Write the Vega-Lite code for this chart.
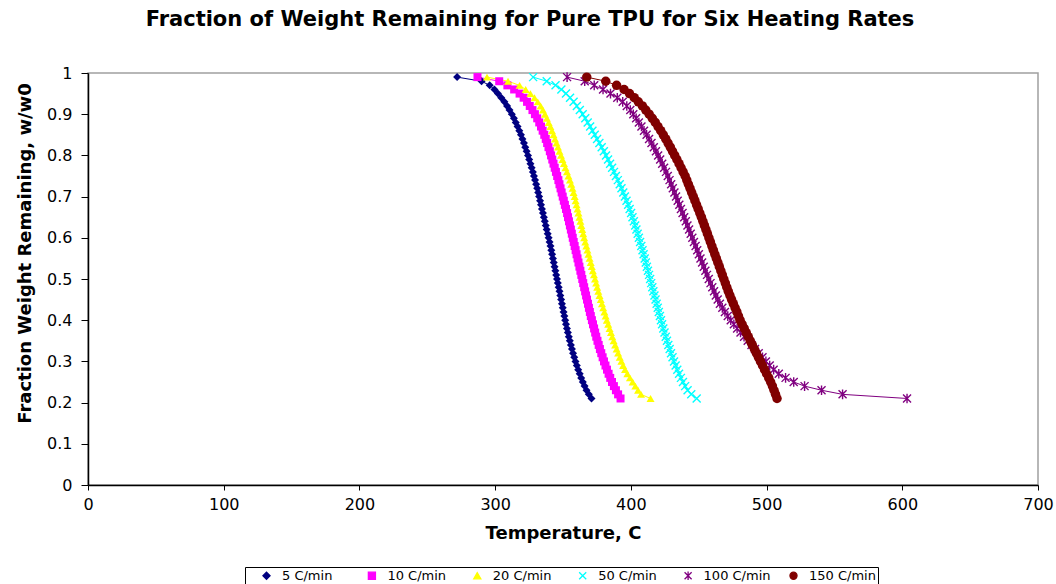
{
"$schema": "https://vega.github.io/schema/vega-lite/v6.json",
"width": 950, "height": 412,
"autosize": {"type": "none"},
"padding": {"left": 88, "top": 73, "right": 18, "bottom": 99},
"background": "white",
"title": {"text": "Fraction of Weight Remaining for Pure TPU for Six Heating Rates", "font": "DejaVu Sans", "fontSize": 21, "fontWeight": "bold", "color": "black", "anchor": "middle", "offset": 35, "dx": -33},
"config": {
 "view": {"stroke": "#a0a0a0", "strokeWidth": 1.5},
 "axis": {"grid": false, "domainColor": "black", "domainWidth": 1.5, "tickColor": "black", "labelFont": "DejaVu Sans", "labelFontSize": 16, "labelColor": "black", "titleFont": "DejaVu Sans", "titleFontWeight": "bold", "titleColor": "black"}
},
"data": {"values": [
{"s":"5 C/min","w":0.99,"t":272},{"s":"5 C/min","w":0.98,"t":290},{"s":"5 C/min","w":0.97,"t":296},{"s":"5 C/min","w":0.96,"t":299.5},{"s":"5 C/min","w":0.95,"t":302},{"s":"5 C/min","w":0.94,"t":304.5},{"s":"5 C/min","w":0.93,"t":306.8},{"s":"5 C/min","w":0.92,"t":308.8},{"s":"5 C/min","w":0.91,"t":310.6},{"s":"5 C/min","w":0.90,"t":312.3},
{"s":"5 C/min","w":0.89,"t":313.8},{"s":"5 C/min","w":0.88,"t":315.2},{"s":"5 C/min","w":0.87,"t":316.5},{"s":"5 C/min","w":0.86,"t":317.8},{"s":"5 C/min","w":0.85,"t":319},{"s":"5 C/min","w":0.84,"t":320.1},{"s":"5 C/min","w":0.83,"t":321.2},{"s":"5 C/min","w":0.82,"t":322.2},{"s":"5 C/min","w":0.81,"t":323.2},{"s":"5 C/min","w":0.80,"t":324.2},
{"s":"5 C/min","w":0.79,"t":325.1},{"s":"5 C/min","w":0.78,"t":326},{"s":"5 C/min","w":0.77,"t":326.9},{"s":"5 C/min","w":0.76,"t":327.8},{"s":"5 C/min","w":0.75,"t":328.6},{"s":"5 C/min","w":0.74,"t":329.4},{"s":"5 C/min","w":0.73,"t":330.2},{"s":"5 C/min","w":0.72,"t":331},{"s":"5 C/min","w":0.71,"t":331.7},{"s":"5 C/min","w":0.70,"t":332.4},
{"s":"5 C/min","w":0.69,"t":333.1},{"s":"5 C/min","w":0.68,"t":333.8},{"s":"5 C/min","w":0.67,"t":334.5},{"s":"5 C/min","w":0.66,"t":335.2},{"s":"5 C/min","w":0.65,"t":335.9},{"s":"5 C/min","w":0.64,"t":336.6},{"s":"5 C/min","w":0.63,"t":337.3},{"s":"5 C/min","w":0.62,"t":338},{"s":"5 C/min","w":0.61,"t":338.7},{"s":"5 C/min","w":0.60,"t":339.4},
{"s":"5 C/min","w":0.59,"t":340.1},{"s":"5 C/min","w":0.58,"t":340.8},{"s":"5 C/min","w":0.57,"t":341.4},{"s":"5 C/min","w":0.56,"t":342},{"s":"5 C/min","w":0.55,"t":342.6},{"s":"5 C/min","w":0.54,"t":343.2},{"s":"5 C/min","w":0.53,"t":343.8},{"s":"5 C/min","w":0.52,"t":344.4},{"s":"5 C/min","w":0.51,"t":345},{"s":"5 C/min","w":0.50,"t":345.6},
{"s":"5 C/min","w":0.49,"t":346.2},{"s":"5 C/min","w":0.48,"t":346.8},{"s":"5 C/min","w":0.47,"t":347.4},{"s":"5 C/min","w":0.46,"t":348},{"s":"5 C/min","w":0.45,"t":348.6},{"s":"5 C/min","w":0.44,"t":349.2},{"s":"5 C/min","w":0.43,"t":349.8},{"s":"5 C/min","w":0.42,"t":350.4},{"s":"5 C/min","w":0.41,"t":351},{"s":"5 C/min","w":0.40,"t":351.6},
{"s":"5 C/min","w":0.39,"t":352.2},{"s":"5 C/min","w":0.38,"t":352.9},{"s":"5 C/min","w":0.37,"t":353.6},{"s":"5 C/min","w":0.36,"t":354.3},{"s":"5 C/min","w":0.35,"t":355},{"s":"5 C/min","w":0.34,"t":355.8},{"s":"5 C/min","w":0.33,"t":356.6},{"s":"5 C/min","w":0.32,"t":357.4},{"s":"5 C/min","w":0.31,"t":358.3},{"s":"5 C/min","w":0.30,"t":359.2},
{"s":"5 C/min","w":0.29,"t":360.2},{"s":"5 C/min","w":0.28,"t":361.2},{"s":"5 C/min","w":0.27,"t":362.3},{"s":"5 C/min","w":0.26,"t":363.4},{"s":"5 C/min","w":0.25,"t":364.6},{"s":"5 C/min","w":0.24,"t":365.9},{"s":"5 C/min","w":0.23,"t":367.3},{"s":"5 C/min","w":0.22,"t":369},{"s":"5 C/min","w":0.21,"t":371},

{"s":"10 C/min","w":0.99,"t":287},{"s":"10 C/min","w":0.98,"t":303},{"s":"10 C/min","w":0.97,"t":309},{"s":"10 C/min","w":0.96,"t":314},{"s":"10 C/min","w":0.95,"t":318},{"s":"10 C/min","w":0.94,"t":321},{"s":"10 C/min","w":0.93,"t":323.5},{"s":"10 C/min","w":0.92,"t":325.5},{"s":"10 C/min","w":0.91,"t":327.5},{"s":"10 C/min","w":0.90,"t":329.3},
{"s":"10 C/min","w":0.89,"t":331},{"s":"10 C/min","w":0.88,"t":332.5},{"s":"10 C/min","w":0.87,"t":333.8},{"s":"10 C/min","w":0.86,"t":335},{"s":"10 C/min","w":0.85,"t":336.2},{"s":"10 C/min","w":0.84,"t":337.3},{"s":"10 C/min","w":0.83,"t":338.3},{"s":"10 C/min","w":0.82,"t":339.3},{"s":"10 C/min","w":0.81,"t":340.3},{"s":"10 C/min","w":0.80,"t":341.2},
{"s":"10 C/min","w":0.79,"t":342.1},{"s":"10 C/min","w":0.78,"t":343},{"s":"10 C/min","w":0.77,"t":343.9},{"s":"10 C/min","w":0.76,"t":344.8},{"s":"10 C/min","w":0.75,"t":345.7},{"s":"10 C/min","w":0.74,"t":346.6},{"s":"10 C/min","w":0.73,"t":347.4},{"s":"10 C/min","w":0.72,"t":348.2},{"s":"10 C/min","w":0.71,"t":349},{"s":"10 C/min","w":0.70,"t":349.8},
{"s":"10 C/min","w":0.69,"t":350.6},{"s":"10 C/min","w":0.68,"t":351.4},{"s":"10 C/min","w":0.67,"t":352.2},{"s":"10 C/min","w":0.66,"t":353},{"s":"10 C/min","w":0.65,"t":353.7},{"s":"10 C/min","w":0.64,"t":354.4},{"s":"10 C/min","w":0.63,"t":355.1},{"s":"10 C/min","w":0.62,"t":355.8},{"s":"10 C/min","w":0.61,"t":356.5},{"s":"10 C/min","w":0.60,"t":357.2},
{"s":"10 C/min","w":0.59,"t":357.9},{"s":"10 C/min","w":0.58,"t":358.6},{"s":"10 C/min","w":0.57,"t":359.3},{"s":"10 C/min","w":0.56,"t":360},{"s":"10 C/min","w":0.55,"t":360.7},{"s":"10 C/min","w":0.54,"t":361.4},{"s":"10 C/min","w":0.53,"t":362.1},{"s":"10 C/min","w":0.52,"t":362.8},{"s":"10 C/min","w":0.51,"t":363.5},{"s":"10 C/min","w":0.50,"t":364.2},
{"s":"10 C/min","w":0.49,"t":364.9},{"s":"10 C/min","w":0.48,"t":365.6},{"s":"10 C/min","w":0.47,"t":366.3},{"s":"10 C/min","w":0.46,"t":367},{"s":"10 C/min","w":0.45,"t":367.7},{"s":"10 C/min","w":0.44,"t":368.4},{"s":"10 C/min","w":0.43,"t":369.1},{"s":"10 C/min","w":0.42,"t":369.8},{"s":"10 C/min","w":0.41,"t":370.5},{"s":"10 C/min","w":0.40,"t":371.3},
{"s":"10 C/min","w":0.39,"t":372.1},{"s":"10 C/min","w":0.38,"t":372.9},{"s":"10 C/min","w":0.37,"t":373.7},{"s":"10 C/min","w":0.36,"t":374.5},{"s":"10 C/min","w":0.35,"t":375.4},{"s":"10 C/min","w":0.34,"t":376.3},{"s":"10 C/min","w":0.33,"t":377.2},{"s":"10 C/min","w":0.32,"t":378.2},{"s":"10 C/min","w":0.31,"t":379.2},{"s":"10 C/min","w":0.30,"t":380.2},
{"s":"10 C/min","w":0.29,"t":381.3},{"s":"10 C/min","w":0.28,"t":382.4},{"s":"10 C/min","w":0.27,"t":383.6},{"s":"10 C/min","w":0.26,"t":384.8},{"s":"10 C/min","w":0.25,"t":386.1},{"s":"10 C/min","w":0.24,"t":387.5},{"s":"10 C/min","w":0.23,"t":389},{"s":"10 C/min","w":0.22,"t":390.6},{"s":"10 C/min","w":0.21,"t":392.4},

{"s":"20 C/min","w":0.99,"t":294},{"s":"20 C/min","w":0.98,"t":309.5},{"s":"20 C/min","w":0.97,"t":318},{"s":"20 C/min","w":0.96,"t":322.5},{"s":"20 C/min","w":0.95,"t":326},{"s":"20 C/min","w":0.94,"t":329},{"s":"20 C/min","w":0.93,"t":331.4},{"s":"20 C/min","w":0.92,"t":333.5},{"s":"20 C/min","w":0.91,"t":335.2},{"s":"20 C/min","w":0.90,"t":336.7},
{"s":"20 C/min","w":0.89,"t":338.1},{"s":"20 C/min","w":0.88,"t":339.4},{"s":"20 C/min","w":0.87,"t":340.7},{"s":"20 C/min","w":0.86,"t":341.9},{"s":"20 C/min","w":0.85,"t":343},{"s":"20 C/min","w":0.84,"t":344.1},{"s":"20 C/min","w":0.83,"t":345.2},{"s":"20 C/min","w":0.82,"t":346.3},{"s":"20 C/min","w":0.81,"t":347.4},{"s":"20 C/min","w":0.80,"t":348.5},
{"s":"20 C/min","w":0.79,"t":349.6},{"s":"20 C/min","w":0.78,"t":350.7},{"s":"20 C/min","w":0.77,"t":351.8},{"s":"20 C/min","w":0.76,"t":352.9},{"s":"20 C/min","w":0.75,"t":354},{"s":"20 C/min","w":0.74,"t":355.1},{"s":"20 C/min","w":0.73,"t":356.1},{"s":"20 C/min","w":0.72,"t":357},{"s":"20 C/min","w":0.71,"t":357.8},{"s":"20 C/min","w":0.70,"t":358.6},
{"s":"20 C/min","w":0.69,"t":359.3},{"s":"20 C/min","w":0.68,"t":360},{"s":"20 C/min","w":0.67,"t":360.7},{"s":"20 C/min","w":0.66,"t":361.4},{"s":"20 C/min","w":0.65,"t":362.1},{"s":"20 C/min","w":0.64,"t":362.8},{"s":"20 C/min","w":0.63,"t":363.5},{"s":"20 C/min","w":0.62,"t":364.2},{"s":"20 C/min","w":0.61,"t":364.9},{"s":"20 C/min","w":0.60,"t":365.6},
{"s":"20 C/min","w":0.59,"t":366.4},{"s":"20 C/min","w":0.58,"t":367.2},{"s":"20 C/min","w":0.57,"t":368},{"s":"20 C/min","w":0.56,"t":368.8},{"s":"20 C/min","w":0.55,"t":369.6},{"s":"20 C/min","w":0.54,"t":370.4},{"s":"20 C/min","w":0.53,"t":371.2},{"s":"20 C/min","w":0.52,"t":372},{"s":"20 C/min","w":0.51,"t":372.8},{"s":"20 C/min","w":0.50,"t":373.6},
{"s":"20 C/min","w":0.49,"t":374.4},{"s":"20 C/min","w":0.48,"t":375.2},{"s":"20 C/min","w":0.47,"t":376},{"s":"20 C/min","w":0.46,"t":376.9},{"s":"20 C/min","w":0.45,"t":377.8},{"s":"20 C/min","w":0.44,"t":378.7},{"s":"20 C/min","w":0.43,"t":379.6},{"s":"20 C/min","w":0.42,"t":380.5},{"s":"20 C/min","w":0.41,"t":381.4},{"s":"20 C/min","w":0.40,"t":382.3},
{"s":"20 C/min","w":0.39,"t":383.3},{"s":"20 C/min","w":0.38,"t":384.3},{"s":"20 C/min","w":0.37,"t":385.3},{"s":"20 C/min","w":0.36,"t":386.3},{"s":"20 C/min","w":0.35,"t":387.3},{"s":"20 C/min","w":0.34,"t":388.4},{"s":"20 C/min","w":0.33,"t":389.5},{"s":"20 C/min","w":0.32,"t":390.6},{"s":"20 C/min","w":0.31,"t":391.8},{"s":"20 C/min","w":0.30,"t":393},
{"s":"20 C/min","w":0.29,"t":394.3},{"s":"20 C/min","w":0.28,"t":395.7},{"s":"20 C/min","w":0.27,"t":397.4},{"s":"20 C/min","w":0.26,"t":399.3},{"s":"20 C/min","w":0.25,"t":401.3},{"s":"20 C/min","w":0.24,"t":403.3},{"s":"20 C/min","w":0.23,"t":405.3},{"s":"20 C/min","w":0.22,"t":407.5},{"s":"20 C/min","w":0.21,"t":414.5},

{"s":"50 C/min","w":0.99,"t":328},{"s":"50 C/min","w":0.98,"t":338},{"s":"50 C/min","w":0.97,"t":344.5},{"s":"50 C/min","w":0.96,"t":348.8},{"s":"50 C/min","w":0.95,"t":352.2},{"s":"50 C/min","w":0.94,"t":355.2},{"s":"50 C/min","w":0.93,"t":357.8},{"s":"50 C/min","w":0.92,"t":360.2},{"s":"50 C/min","w":0.91,"t":362.4},{"s":"50 C/min","w":0.90,"t":364.5},
{"s":"50 C/min","w":0.89,"t":366.4},{"s":"50 C/min","w":0.88,"t":368.2},{"s":"50 C/min","w":0.87,"t":370},{"s":"50 C/min","w":0.86,"t":371.7},{"s":"50 C/min","w":0.85,"t":373.4},{"s":"50 C/min","w":0.84,"t":375.1},{"s":"50 C/min","w":0.83,"t":376.8},{"s":"50 C/min","w":0.82,"t":378.5},{"s":"50 C/min","w":0.81,"t":380.1},{"s":"50 C/min","w":0.80,"t":381.7},
{"s":"50 C/min","w":0.79,"t":383.2},{"s":"50 C/min","w":0.78,"t":384.7},{"s":"50 C/min","w":0.77,"t":386.2},{"s":"50 C/min","w":0.76,"t":387.6},{"s":"50 C/min","w":0.75,"t":389},{"s":"50 C/min","w":0.74,"t":390.4},{"s":"50 C/min","w":0.73,"t":391.8},{"s":"50 C/min","w":0.72,"t":393.1},{"s":"50 C/min","w":0.71,"t":394.4},{"s":"50 C/min","w":0.70,"t":395.6},
{"s":"50 C/min","w":0.69,"t":396.8},{"s":"50 C/min","w":0.68,"t":398},{"s":"50 C/min","w":0.67,"t":399.1},{"s":"50 C/min","w":0.66,"t":400.2},{"s":"50 C/min","w":0.65,"t":401.2},{"s":"50 C/min","w":0.64,"t":402.2},{"s":"50 C/min","w":0.63,"t":403.2},{"s":"50 C/min","w":0.62,"t":404.1},{"s":"50 C/min","w":0.61,"t":405},{"s":"50 C/min","w":0.60,"t":405.9},
{"s":"50 C/min","w":0.59,"t":406.8},{"s":"50 C/min","w":0.58,"t":407.7},{"s":"50 C/min","w":0.57,"t":408.6},{"s":"50 C/min","w":0.56,"t":409.4},{"s":"50 C/min","w":0.55,"t":410.2},{"s":"50 C/min","w":0.54,"t":411},{"s":"50 C/min","w":0.53,"t":411.8},{"s":"50 C/min","w":0.52,"t":412.6},{"s":"50 C/min","w":0.51,"t":413.4},{"s":"50 C/min","w":0.50,"t":414.2},
{"s":"50 C/min","w":0.49,"t":415},{"s":"50 C/min","w":0.48,"t":415.8},{"s":"50 C/min","w":0.47,"t":416.6},{"s":"50 C/min","w":0.46,"t":417.4},{"s":"50 C/min","w":0.45,"t":418.2},{"s":"50 C/min","w":0.44,"t":419},{"s":"50 C/min","w":0.43,"t":419.8},{"s":"50 C/min","w":0.42,"t":420.6},{"s":"50 C/min","w":0.41,"t":421.4},{"s":"50 C/min","w":0.40,"t":422.2},
{"s":"50 C/min","w":0.39,"t":423},{"s":"50 C/min","w":0.38,"t":423.9},{"s":"50 C/min","w":0.37,"t":424.8},{"s":"50 C/min","w":0.36,"t":425.7},{"s":"50 C/min","w":0.35,"t":426.6},{"s":"50 C/min","w":0.34,"t":427.6},{"s":"50 C/min","w":0.33,"t":428.6},{"s":"50 C/min","w":0.32,"t":429.6},{"s":"50 C/min","w":0.31,"t":430.7},{"s":"50 C/min","w":0.30,"t":431.8},
{"s":"50 C/min","w":0.29,"t":433},{"s":"50 C/min","w":0.28,"t":434.2},{"s":"50 C/min","w":0.27,"t":435.5},{"s":"50 C/min","w":0.26,"t":436.9},{"s":"50 C/min","w":0.25,"t":438.4},{"s":"50 C/min","w":0.24,"t":440},{"s":"50 C/min","w":0.23,"t":441.8},{"s":"50 C/min","w":0.22,"t":444.5},{"s":"50 C/min","w":0.21,"t":448.5},

{"s":"100 C/min","w":0.99,"t":353},{"s":"100 C/min","w":0.98,"t":366},{"s":"100 C/min","w":0.97,"t":373},{"s":"100 C/min","w":0.96,"t":379.5},{"s":"100 C/min","w":0.95,"t":385},{"s":"100 C/min","w":0.94,"t":390},{"s":"100 C/min","w":0.93,"t":394},{"s":"100 C/min","w":0.92,"t":397},{"s":"100 C/min","w":0.91,"t":399.6},{"s":"100 C/min","w":0.90,"t":401.8},
{"s":"100 C/min","w":0.89,"t":403.9},{"s":"100 C/min","w":0.88,"t":405.9},{"s":"100 C/min","w":0.87,"t":407.8},{"s":"100 C/min","w":0.86,"t":409.7},{"s":"100 C/min","w":0.85,"t":411.6},{"s":"100 C/min","w":0.84,"t":413.4},{"s":"100 C/min","w":0.83,"t":415.2},{"s":"100 C/min","w":0.82,"t":416.9},{"s":"100 C/min","w":0.81,"t":418.5},{"s":"100 C/min","w":0.80,"t":420.1},
{"s":"100 C/min","w":0.79,"t":421.6},{"s":"100 C/min","w":0.78,"t":423.1},{"s":"100 C/min","w":0.77,"t":424.5},{"s":"100 C/min","w":0.76,"t":425.9},{"s":"100 C/min","w":0.75,"t":427.2},{"s":"100 C/min","w":0.74,"t":428.5},{"s":"100 C/min","w":0.73,"t":429.7},{"s":"100 C/min","w":0.72,"t":430.9},{"s":"100 C/min","w":0.71,"t":432.1},{"s":"100 C/min","w":0.70,"t":433.3},
{"s":"100 C/min","w":0.69,"t":434.5},{"s":"100 C/min","w":0.68,"t":435.7},{"s":"100 C/min","w":0.67,"t":436.9},{"s":"100 C/min","w":0.66,"t":438.1},{"s":"100 C/min","w":0.65,"t":439.3},{"s":"100 C/min","w":0.64,"t":440.5},{"s":"100 C/min","w":0.63,"t":441.7},{"s":"100 C/min","w":0.62,"t":442.9},{"s":"100 C/min","w":0.61,"t":444.1},{"s":"100 C/min","w":0.60,"t":445.3},
{"s":"100 C/min","w":0.59,"t":446.5},{"s":"100 C/min","w":0.58,"t":447.7},{"s":"100 C/min","w":0.57,"t":448.9},{"s":"100 C/min","w":0.56,"t":450.1},{"s":"100 C/min","w":0.55,"t":451.3},{"s":"100 C/min","w":0.54,"t":452.5},{"s":"100 C/min","w":0.53,"t":453.7},{"s":"100 C/min","w":0.52,"t":454.9},{"s":"100 C/min","w":0.51,"t":456.1},{"s":"100 C/min","w":0.50,"t":457.4},
{"s":"100 C/min","w":0.49,"t":458.7},{"s":"100 C/min","w":0.48,"t":460},{"s":"100 C/min","w":0.47,"t":461.3},{"s":"100 C/min","w":0.46,"t":462.6},{"s":"100 C/min","w":0.45,"t":464},{"s":"100 C/min","w":0.44,"t":465.6},{"s":"100 C/min","w":0.43,"t":467.4},{"s":"100 C/min","w":0.42,"t":469.3},{"s":"100 C/min","w":0.41,"t":471.4},{"s":"100 C/min","w":0.40,"t":473.6},
{"s":"100 C/min","w":0.39,"t":475.9},{"s":"100 C/min","w":0.38,"t":478.3},{"s":"100 C/min","w":0.37,"t":480.8},{"s":"100 C/min","w":0.36,"t":483.4},{"s":"100 C/min","w":0.35,"t":486.1},{"s":"100 C/min","w":0.34,"t":488.9},{"s":"100 C/min","w":0.33,"t":491.5},{"s":"100 C/min","w":0.32,"t":494.2},{"s":"100 C/min","w":0.31,"t":497},{"s":"100 C/min","w":0.30,"t":499.5},
{"s":"100 C/min","w":0.29,"t":502.3},{"s":"100 C/min","w":0.28,"t":505.2},{"s":"100 C/min","w":0.27,"t":509},{"s":"100 C/min","w":0.26,"t":514},{"s":"100 C/min","w":0.25,"t":520},{"s":"100 C/min","w":0.24,"t":528},{"s":"100 C/min","w":0.23,"t":540.5},{"s":"100 C/min","w":0.22,"t":556},{"s":"100 C/min","w":0.21,"t":603.5},

{"s":"150 C/min","w":0.99,"t":367.5},{"s":"150 C/min","w":0.98,"t":381.5},{"s":"150 C/min","w":0.97,"t":389.5},{"s":"150 C/min","w":0.96,"t":395},{"s":"150 C/min","w":0.95,"t":399},{"s":"150 C/min","w":0.94,"t":402.5},{"s":"150 C/min","w":0.93,"t":405.5},{"s":"150 C/min","w":0.92,"t":408.5},{"s":"150 C/min","w":0.91,"t":411},{"s":"150 C/min","w":0.90,"t":413.5},
{"s":"150 C/min","w":0.89,"t":415.8},{"s":"150 C/min","w":0.88,"t":418},{"s":"150 C/min","w":0.87,"t":420},{"s":"150 C/min","w":0.86,"t":422},{"s":"150 C/min","w":0.85,"t":423.9},{"s":"150 C/min","w":0.84,"t":425.7},{"s":"150 C/min","w":0.83,"t":427.4},{"s":"150 C/min","w":0.82,"t":429.1},{"s":"150 C/min","w":0.81,"t":430.7},{"s":"150 C/min","w":0.80,"t":432.3},
{"s":"150 C/min","w":0.79,"t":433.9},{"s":"150 C/min","w":0.78,"t":435.5},{"s":"150 C/min","w":0.77,"t":437},{"s":"150 C/min","w":0.76,"t":438.5},{"s":"150 C/min","w":0.75,"t":440},{"s":"150 C/min","w":0.74,"t":441.2},{"s":"150 C/min","w":0.73,"t":442.4},{"s":"150 C/min","w":0.72,"t":443.6},{"s":"150 C/min","w":0.71,"t":444.8},{"s":"150 C/min","w":0.70,"t":446},
{"s":"150 C/min","w":0.69,"t":447.2},{"s":"150 C/min","w":0.68,"t":448.4},{"s":"150 C/min","w":0.67,"t":449.6},{"s":"150 C/min","w":0.66,"t":450.8},{"s":"150 C/min","w":0.65,"t":452},{"s":"150 C/min","w":0.64,"t":453.1},{"s":"150 C/min","w":0.63,"t":454.2},{"s":"150 C/min","w":0.62,"t":455.3},{"s":"150 C/min","w":0.61,"t":456.4},{"s":"150 C/min","w":0.60,"t":457.5},
{"s":"150 C/min","w":0.59,"t":458.6},{"s":"150 C/min","w":0.58,"t":459.7},{"s":"150 C/min","w":0.57,"t":460.8},{"s":"150 C/min","w":0.56,"t":461.9},{"s":"150 C/min","w":0.55,"t":463},{"s":"150 C/min","w":0.54,"t":464.1},{"s":"150 C/min","w":0.53,"t":465.2},{"s":"150 C/min","w":0.52,"t":466.3},{"s":"150 C/min","w":0.51,"t":467.4},{"s":"150 C/min","w":0.50,"t":468.5},
{"s":"150 C/min","w":0.49,"t":469.6},{"s":"150 C/min","w":0.48,"t":470.7},{"s":"150 C/min","w":0.47,"t":471.8},{"s":"150 C/min","w":0.46,"t":473},{"s":"150 C/min","w":0.45,"t":474.2},{"s":"150 C/min","w":0.44,"t":475.5},{"s":"150 C/min","w":0.43,"t":476.8},{"s":"150 C/min","w":0.42,"t":478.1},{"s":"150 C/min","w":0.41,"t":479.3},{"s":"150 C/min","w":0.40,"t":480.5},
{"s":"150 C/min","w":0.39,"t":482},{"s":"150 C/min","w":0.38,"t":483.5},{"s":"150 C/min","w":0.37,"t":485},{"s":"150 C/min","w":0.36,"t":486.5},{"s":"150 C/min","w":0.35,"t":488},{"s":"150 C/min","w":0.34,"t":489.5},{"s":"150 C/min","w":0.33,"t":491},{"s":"150 C/min","w":0.32,"t":492.5},{"s":"150 C/min","w":0.31,"t":494},{"s":"150 C/min","w":0.30,"t":495.5},
{"s":"150 C/min","w":0.29,"t":497},{"s":"150 C/min","w":0.28,"t":498.5},{"s":"150 C/min","w":0.27,"t":500},{"s":"150 C/min","w":0.26,"t":501.6},{"s":"150 C/min","w":0.25,"t":503},{"s":"150 C/min","w":0.24,"t":504.3},{"s":"150 C/min","w":0.23,"t":505.5},{"s":"150 C/min","w":0.22,"t":506.6},{"s":"150 C/min","w":0.21,"t":507.7}
]},
"encoding": {
 "x": {"field": "t", "type": "quantitative", "title": "Temperature, C",
   "scale": {"domain": [0, 700], "nice": false, "zero": false},
   "axis": {"values": [0,100,200,300,400,500,600,700], "tickSize": 5, "labelPadding": 6, "titleFontSize": 18, "titlePadding": 12, "labelFlush": false}},
 "y": {"field": "w", "type": "quantitative", "title": "Fraction Weight Remaining, w/w0",
   "scale": {"domain": [0, 1], "nice": false},
   "axis": {"values": [0,0.1,0.2,0.3,0.4,0.5,0.6,0.7,0.8,0.9,1], "format": "~g", "tickSize": 7, "labelPadding": 9, "titleFontSize": 18, "titlePadding": 12, "titleY": 180, "labelFlush": false}},
 "color": {"field": "s", "type": "nominal",
   "scale": {"domain": ["5 C/min","10 C/min","20 C/min","50 C/min","100 C/min","150 C/min"], "range": ["#000080","#FF00FF","#FFFF00","#00FFFF","#800080","#800000"]},
   "legend": {"orient": "none", "legendX": 157, "legendY": 494, "direction": "horizontal", "columns": 6, "gridAlign": "all", "title": null,
     "labelFont": "DejaVu Sans", "labelFontSize": 13, "labelColor": "black", "symbolSize": 50, "symbolStrokeWidth": 1.3, "symbolOffset": 13, "labelOffset": 9, "columnPadding": 3.4, "rowPadding": 0, "padding": 2, "strokeColor": "black"}}
},
"layer": [
 {"mark": {"type": "line", "strokeWidth": 1}, "encoding": {"detail": {"field": "s"}}},
 {"transform": [{"filter": "datum.s === '50 C/min' || datum.s === '100 C/min'"}],
  "mark": {"type": "point", "filled": false, "size": 64, "strokeWidth": 1.4, "opacity": 1},
  "encoding": {"shape": {"field": "s", "type": "nominal", "legend": null,
     "scale": {"domain": ["5 C/min","10 C/min","20 C/min","50 C/min","100 C/min","150 C/min"], "range": ["diamond","square","triangle-up","M-1,-1L1,1M-1,1L1,-1","M-1,-1L1,1M-1,1L1,-1M0,-1.2L0,1.2","circle"]}}}},
 {"transform": [{"filter": "datum.s === '5 C/min' || datum.s === '10 C/min' || datum.s === '20 C/min'"}],
  "mark": {"type": "point", "filled": true, "size": 64, "opacity": 1},
  "encoding": {"shape": {"field": "s", "type": "nominal", "legend": null}}},
 {"transform": [{"filter": "datum.s === '150 C/min'"}],
  "mark": {"type": "point", "filled": true, "size": 90, "opacity": 1},
  "encoding": {"shape": {"field": "s", "type": "nominal", "legend": null}}}
]
}
